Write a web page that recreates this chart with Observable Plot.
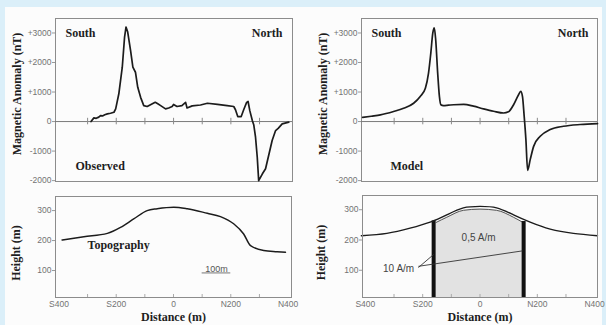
<!DOCTYPE html>
<html><head><meta charset="utf-8">
<script src="https://cdn.jsdelivr.net/npm/d3@7"></script>
<script src="https://cdn.jsdelivr.net/npm/@observablehq/plot@0.6"></script>
<style>
html,body{margin:0;padding:0;width:606px;height:325px;overflow:hidden;background:#dbeff9;}
#sheet{position:absolute;left:5px;top:7px;width:597px;height:318px;background:#fcfcfc;}
svg{overflow:visible;}
</style></head><body><div id="sheet"></div>
<script>
// ---- data ----
const obsDist = [-288,-278,-270,-261,-255,-248,-240,-231,-220,-208,-202,-191,-179,-171,-166,-160,-150,-142,-133,-125,-115,-104,-92,-74,-64,-55,-45,-28,-17,-5,0,12,29,42,47,65,94,118,153,187,210,216,224,236,245,255,260,266,275,280,286,292,297,310,321,333,344,356,365,379,402];
const obsAnom = [0,125,110,150,200,190,230,260,280,315,430,940,1840,2860,3200,3030,2400,1840,1670,1160,820,540,510,600,650,600,540,430,460,510,580,510,540,650,460,530,560,620,580,540,510,400,170,170,410,650,680,370,30,-120,-530,-1210,-2000,-1770,-1600,-1100,-640,-305,-230,-80,-20];

const modDist = [-410,-380,-348,-302,-267,-232,-209,-191,-180,-172,-165,-160,-155,-148,-142,-137,-128,-110,-92,-57,-23,12,47,82,99,117,134,142,148,154,160,166,175,187,210,245,291,350,410];
const modAnom = [140,180,225,340,450,620,850,1130,1640,2320,3000,3170,2780,1640,850,570,540,555,570,580,520,430,350,290,330,570,900,1020,850,180,-610,-1650,-1290,-840,-500,-270,-160,-100,-70];

const topoObsDist = [-389,-313,-231,-185,-139,-92,-57,1,48,118,164,210,245,269,315,362,391];
const topoObsH    = [202,213,224,244,272,300,306,311,306,291,280,256,222,183,167,163,161];

const topoModDist = [-414,-325,-244,-174,-116,-58,0,58,117,175,245,326,410];
const topoModH    = [214,222,239,259,283,306,311,306,283,259,236,222,214];

const bodyTopDist = [-153,-116,-58,0,58,117,148];
const bodyTopH    = [258,275,298,302,298,275,259];
const bodyBase = 0;
const dikeX1 = [-167,147];
const dikeX2 = [-153,161];
const dikeTop = [263,261];

const anomTicks = [3000,2000,1000,0,-1000,-2000];
const heightTicks = [100,200,300];
const distTicks = [-400,-200,0,200,400];
const minorDist = [-300,-200,-100,0,100,200,300];
const distLabel = d => d < 0 ? "S" + (-d) : d > 0 ? "N" + d : "0";
const anomLabel = d => d > 0 ? "+" + d : String(d);

// annotation data (distance m, height m)
const magLabels = [{d:-284, h:104, t:"10 A/m"}, {d:-5, h:207, t:"0,5 A/m"}];
const magLeaders = [{d1:-215,h1:109,d2:-162,h2:152},{d1:-215,h1:113,d2:148,h2:164}];
const scaleBar = {d1:100, d2:200, h:92, labelH:106, t:"100m"};

const obs = obsDist.map((d,i)=>({d, v: obsAnom[i]}));
const mod = modDist.map((d,i)=>({d, v: modAnom[i]}));
const topoObs = topoObsDist.map((d,i)=>({d, h: topoObsH[i]}));
const topoMod = topoModDist.map((d,i)=>({d, h: topoModH[i]}));
const bodyTop = bodyTopDist.map((d,i)=>({d, h: bodyTopH[i]}));
const dikes = dikeX1.map((x1,i)=>({x1, x2: dikeX2[i], top: dikeTop[i]}));

// ---- styles ----
const SERIF = "Liberation Serif";
const boldText = {fontFamily: SERIF, fontWeight: "bold", fontSize: 12, fill: "#1e1e1e", lineAnchor: "middle"};
const frameStroke = "#8c8c8c";
const curveStroke = "#1c1c1c";
const baseStyle = {fontFamily: "Liberation Sans", fontSize: "9px", color: "#737373", background: "transparent", overflow: "visible"};

function place(svg, left, top) {
  svg.style.position = "absolute";
  svg.style.left = left + "px";
  svg.style.top = top + "px";
  document.body.appendChild(svg);
}

function anomalyPanel(data, xDomain, mLeft, mRight, tagLeft, tagRight, name, nameDx, width, curve) {
  return Plot.plot({
    width, height: 190,
    marginLeft: mLeft, marginRight: mRight, marginTop: 18, marginBottom: 9,
    style: baseStyle,
    x: {domain: xDomain, axis: null},
    y: {domain: [-2030, 3490]},
    marks: [
      Plot.frame({stroke: frameStroke}),
      Plot.ruleY([0], {stroke: "#7a7a7a"}),
      Plot.ruleX(minorDist, {x: d => d, y1: -110, y2: 110, stroke: "#8a8a8a"}),
      Plot.axisY({ticks: anomTicks, tickFormat: anomLabel, tickSize: 3, tickPadding: 1, fontSize: 8.5, stroke: "#999", label: null}),
      Plot.line(data, {x: "d", y: "v", stroke: curveStroke, strokeWidth: 1.7, curve}),
      Plot.text(["South"], {text: d => d, frameAnchor: "top-left", dx: tagLeft, dy: 15, textAnchor: "start", ...boldText}),
      Plot.text(["North"], {text: d => d, frameAnchor: "top-right", dx: -tagRight, dy: 15, textAnchor: "end", ...boldText}),
      Plot.text([name], {text: d => d, frameAnchor: "bottom-left", dx: nameDx, dy: -15, textAnchor: "start", ...boldText}),
      Plot.text(["Magnetic Anomaly (nT)"], {text: d => d, frameAnchor: "left", dx: -38, dy: -6, rotate: -90, textAnchor: "middle", ...boldText})
    ]
  });
}

function heightBase(xDomain, mLeft, mRight, width, marginTop, extra) {
  return Plot.plot({
    width, height: 135,
    marginLeft: mLeft, marginRight: mRight, marginTop, marginBottom: 28,
    style: baseStyle,
    x: {domain: xDomain},
    y: {domain: [10, 347]},
    marks: [
      ...extra,
      Plot.frame({stroke: frameStroke}),
      Plot.ruleX(minorDist, {x: d => d, y1: 10, y2: 20, stroke: "#aaa"}),
      Plot.axisX({ticks: distTicks, tickFormat: distLabel, tickSize: 0, tickPadding: 3, fontSize: 8.5, label: null}),
      Plot.axisY({ticks: heightTicks, tickSize: 3, tickPadding: 1, fontSize: 8.5, stroke: "#999", label: null}),
      Plot.text(["Height (m)"], {text: d => d, frameAnchor: "left", dx: mLeft === 55 ? -39 : -41, dy: 6, rotate: -90, textAnchor: "middle", ...boldText}),
      Plot.text(["Distance (m)"], {text: d => d, frameAnchor: "bottom", dy: 19.5, textAnchor: "middle", ...boldText})
    ]
  });
}

place(anomalyPanel(obs, [-412, 415], 55, 8, 10, 10, "Observed", 20, 300, "linear"), 0, 0);
place(anomalyPanel(mod, [-414, 410], 58, 9, 10, 9, "Model", 29, 303, "monotone-x"), 303, 0);

place(heightBase([-412, 412], 55, 9, 300, 6, [
  Plot.line(topoObs, {x: "d", y: "h", stroke: curveStroke, strokeWidth: 1.5, curve: "monotone-x"}),
  Plot.text(["Topography"], {text: d => d, frameAnchor: "left", dx: 32, dy: -2, textAnchor: "start", ...boldText}),
  Plot.ruleY([scaleBar], {x1: "d1", x2: "d2", y: "h", stroke: "#555", strokeWidth: 0.8}),
  Plot.text([scaleBar], {x: d => (d.d1 + d.d2) / 2, y: "labelH", text: "t", fontSize: 9, fill: "#555"})
]), 0, 190);

place(heightBase([-410, 410], 59, 9, 303, 5, [
  Plot.areaY(bodyTop, {x: "d", y1: bodyBase, y2: "h", fill: "#e2e2e2", curve: "monotone-x", clip: true}),
  Plot.line(bodyTop, {x: "d", y: "h", stroke: "#555", strokeWidth: 1, curve: "monotone-x"}),
  Plot.rect(dikes, {x1: "x1", x2: "x2", y1: bodyBase, y2: "top", fill: "#111", clip: true}),
  Plot.line(topoMod, {x: "d", y: "h", stroke: curveStroke, strokeWidth: 1.4, curve: "natural"}),
  Plot.link(magLeaders, {x1: "d1", y1: "h1", x2: "d2", y2: "h2", stroke: "#333", strokeWidth: 0.9}),
  Plot.text(magLabels, {x: "d", y: "h", text: "t", fontSize: 10, fill: "#444"})
]), 303, 190);
</script>
</body></html>
